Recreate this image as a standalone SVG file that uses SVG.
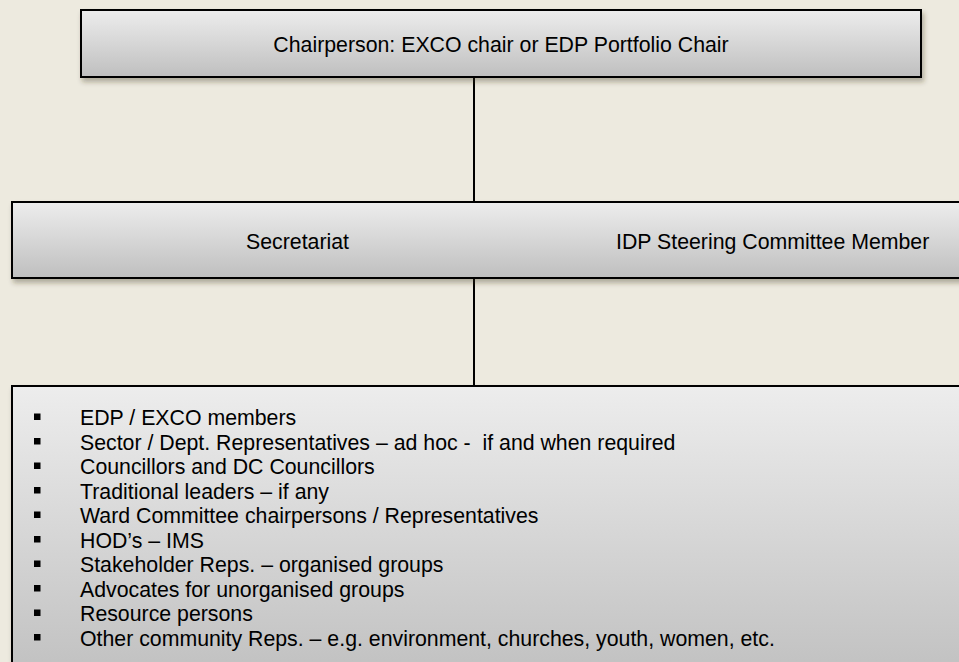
<svg xmlns="http://www.w3.org/2000/svg" width="959" height="662" viewBox="0 0 959 662">
<defs>
<linearGradient id="g" x1="0" y1="0" x2="0" y2="1">
<stop offset="0" stop-color="#ededed"/>
<stop offset="1" stop-color="#bfbfbf"/>
</linearGradient>
<filter id="sh" x="-5%" y="-20%" width="110%" height="150%">
<feDropShadow dx="2" dy="4" stdDeviation="2.5" flood-color="#3a3320" flood-opacity="0.35"/>
</filter>
<style>
.box{fill:url(#g);stroke:#000;stroke-width:2;filter:url(#sh)}
.t{font-family:"Liberation Sans",Arial,sans-serif;font-size:21.3px;fill:#000}
.conn{stroke:#000;stroke-width:2;fill:none}
.b{fill:#000}
</style>
</defs>
<rect width="959" height="662" fill="#edeadf"/>
<g id="connectors">
<line class="conn" x1="474" y1="77" x2="474" y2="202"/>
<line class="conn" x1="474" y1="278" x2="474" y2="386"/>
</g>
<g id="chair">
<rect class="box" x="81" y="10" width="840" height="67"/>
<text class="t" x="501" y="52" text-anchor="middle">Chairperson: EXCO chair or EDP Portfolio Chair</text>
</g>
<g id="secretariat">
<rect class="box" x="12" y="202" width="960" height="76"/>
<text class="t" x="246" y="249">Secretariat</text>
<text class="t" x="616" y="249">IDP Steering Committee Member</text>
</g>
<g id="members">
<rect class="box" x="12" y="386" width="960" height="300"/>
<rect class="b" x="34" y="413.5" width="6.5" height="6.5"/>
<rect class="b" x="34" y="438" width="6.5" height="6.5"/>
<rect class="b" x="34" y="462.5" width="6.5" height="6.5"/>
<rect class="b" x="34" y="487" width="6.5" height="6.5"/>
<rect class="b" x="34" y="511.5" width="6.5" height="6.5"/>
<rect class="b" x="34" y="536" width="6.5" height="6.5"/>
<rect class="b" x="34" y="560.5" width="6.5" height="6.5"/>
<rect class="b" x="34" y="585" width="6.5" height="6.5"/>
<rect class="b" x="34" y="609.5" width="6.5" height="6.5"/>
<rect class="b" x="34" y="634" width="6.5" height="6.5"/>
<text class="t" x="80" y="425">EDP / EXCO members</text>
<text class="t" x="80" y="449.5">Sector / Dept. Representatives – ad hoc -&#160; if and when required</text>
<text class="t" x="80" y="474">Councillors and DC Councillors</text>
<text class="t" x="80" y="498.5">Traditional leaders – if any</text>
<text class="t" x="80" y="523">Ward Committee chairpersons / Representatives</text>
<text class="t" x="80" y="547.5">HOD’s – IMS</text>
<text class="t" x="80" y="572">Stakeholder Reps. – organised groups</text>
<text class="t" x="80" y="596.5">Advocates for unorganised groups</text>
<text class="t" x="80" y="621">Resource persons</text>
<text class="t" x="80" y="645.5">Other community Reps. – e.g. environment, churches, youth, women, etc.</text>
</g>
</svg>
